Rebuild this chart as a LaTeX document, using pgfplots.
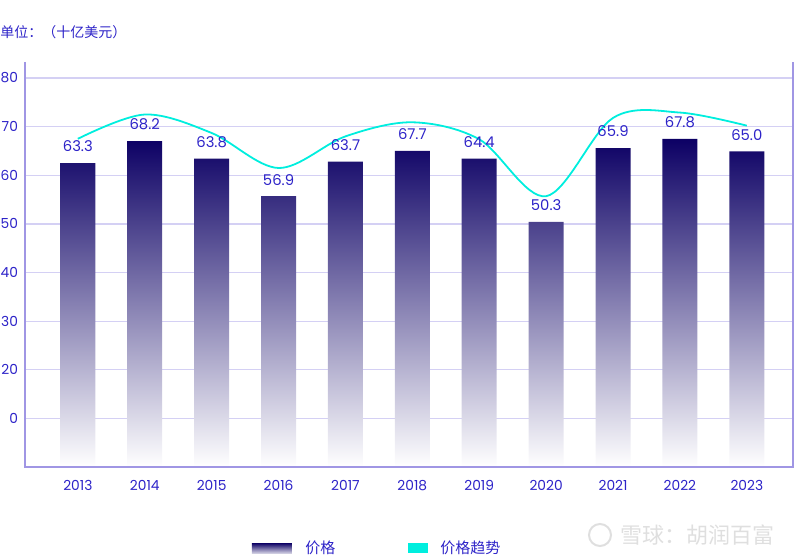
\documentclass[border=0pt]{standalone}
\usepackage{fontspec}
\setmainfont{Poppins}
\newfontfamily\cjk{Noto Sans CJK SC}
\usepackage{pgfplots}
\pgfplotsset{compat=1.18}

\definecolor{txtblue}{RGB}{45,35,200}
\definecolor{barnavy}{RGB}{12,0,100}
\definecolor{gridlav}{RGB}{212,208,244}
\definecolor{axislav}{RGB}{160,150,228}
\definecolor{trendcyan}{RGB}{0,238,222}

\begin{document}
\begin{tikzpicture}
\useasboundingbox (-12.5pt,-46pt) rectangle (387.5pt,233.5pt);
\begin{axis}[
    at={(0,0)}, anchor=south west, scale only axis,
    width=384pt, height=202.5pt,
    xmin=-0.79, xmax=10.69, ymin=0, ymax=83.3,
    axis line style={draw=none},
    xtick={0,...,10},
    xticklabels={2013,2014,2015,2016,2017,2018,2019,2020,2021,2022,2023},
    ytick={10,20,...,80},
    yticklabels={0,20,30,40,50,60,70,80},
    major tick length=0pt,
    ymajorgrids, grid style={gridlav, line width=0.6pt},
    tick label style={font=\fontsize{6.9}{8}\selectfont, text=txtblue},
    /pgf/number format/assume math mode=true,
    xticklabel style={yshift=-3pt},
    clip=false,
]
% bars (visible heights)
\addplot[ybar, bar width=17.5pt, draw=none, top color=barnavy, bottom color=white] coordinates {
(0,62.5) (1,67.0) (2,63.4) (3,55.7) (4,62.8) (5,65.0) (6,63.4) (7,50.4) (8,65.6) (9,67.5) (10,64.9)};
% value labels
\addplot[draw=none, mark=none, nodes near coords, point meta=explicit symbolic,
    nodes near coords style={font=\fontsize{7.4}{8}\selectfont, text=txtblue, anchor=south, yshift=2pt}]
    coordinates {
(0,62.5) [63.3] (1,67.0) [68.2] (2,63.4) [63.8] (3,55.7) [56.9] (4,62.8) [63.7] (5,65.0) [67.7]
(6,63.4) [64.4] (7,50.4) [50.3] (8,65.6) [65.9] (9,67.5) [67.8] (10,64.9) [65.0]};
% trend
\addplot[trendcyan, line width=0.9pt, smooth, tension=0.55] coordinates {
(0,67.5) (1,72.5) (2,68.7) (3,61.5) (4,68.0) (5,70.9) (6,67.4) (7,55.7) (8,71.8) (9,72.9) (10,70.2)};
% frame: left, bottom, right
\draw[axislav, line width=0.8pt] (rel axis cs:0,1) -- (rel axis cs:0,0) -- (rel axis cs:1,0) -- (rel axis cs:1,1);
\end{axis}

\node[anchor=west, inner sep=0, text=txtblue, font=\cjk\fontsize{7}{8}\selectfont] at (-12.5pt,217.5pt) {单位：（十亿美元）};

% legend
\shade[top color=barnavy, bottom color=barnavy!20] (113.5pt,-43pt) rectangle (133.5pt,-38pt);
\node[anchor=west, inner sep=0, text=txtblue, font=\cjk\fontsize{7.5}{9}\selectfont] at (140pt,-40.5pt) {价格};
\fill[trendcyan] (191.5pt,-43pt) rectangle (201.5pt,-38pt);
\node[anchor=west, inner sep=0, text=txtblue, font=\cjk\fontsize{7.5}{9}\selectfont] at (207.5pt,-40.5pt) {价格趋势};

% watermark
\draw[gray!25, line width=1pt] (287.5pt,-34pt) circle (5.5pt);
\node[anchor=west, inner sep=0, text=gray!25, font=\cjk\fontsize{11}{13}\selectfont] at (297.5pt,-34pt) {雪球：胡润百富};
\end{tikzpicture}
\end{document}
